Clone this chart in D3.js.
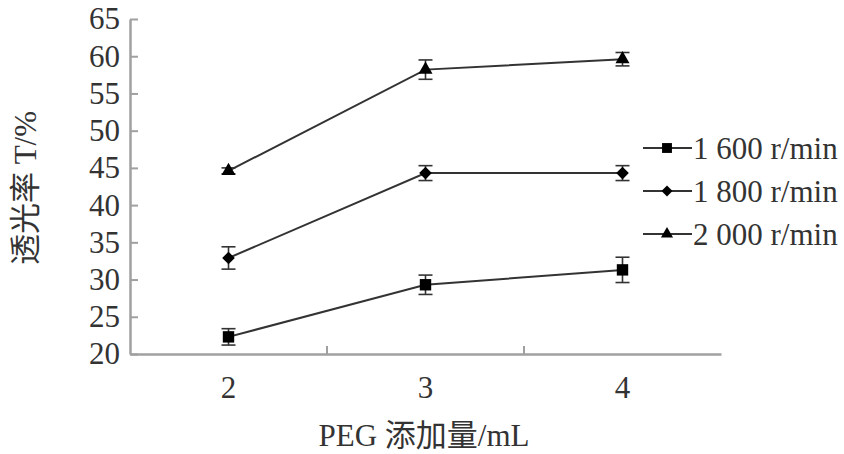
<!DOCTYPE html>
<html><head><meta charset="utf-8">
<script src="https://cdn.jsdelivr.net/npm/d3@7"></script>
<style>
body{margin:0;background:#fff;}
text{font-family:"Liberation Serif","Noto Sans CJK SC",serif;fill:#333;}
</style></head>
<body><svg id="c" width="844" height="454"></svg>
<script>
const categories = [2, 3, 4];
const seriesNames = ["1 600 r/min", "1 800 r/min", "2 000 r/min"];
const series1600 = [22.3, 29.3, 31.3];
const err1600 = [1.1, 1.3, 1.7];
const series1800 = [32.9, 44.3, 44.3];
const err1800 = [1.5, 1.0, 1.0];
const series2000 = [44.6, 58.2, 59.6];
const err2000 = [0.4, 1.3, 0.9];
const yTicks = [20, 25, 30, 35, 40, 45, 50, 55, 60, 65];

const data = [
  {name: seriesNames[0], v: series1600, e: err1600, sym: d3.symbolSquare, size: 130, rot: 0},
  {name: seriesNames[1], v: series1800, e: err1800, sym: d3.symbolSquare, size: 80, rot: 45},
  {name: seriesNames[2], v: series2000, e: err2000, sym: d3.symbolTriangle, size: 85, rot: 0}
];

const svg = d3.select("#c");
const x = d3.scaleBand().domain(categories).range([130, 721]).padding(0);
const y = d3.scaleLinear().domain([20, 65]).range([354, 19]);
const axisColor = "#a0a0a0";
const lineColor = "#333";
const fs = 31;

// y axis
const gy = svg.append("g").attr("transform", "translate(130,0)")
  .call(d3.axisLeft(y).tickValues(yTicks).tickSizeInner(-8).tickSizeOuter(0).tickPadding(10));
gy.select(".domain").attr("stroke", axisColor).attr("stroke-width", 2.5);
gy.selectAll(".tick line").attr("stroke", axisColor).attr("stroke-width", 2);
gy.selectAll(".tick text").attr("font-size", fs).attr("fill", "#333")
  .attr("font-family", "Liberation Serif");

// x axis
const gx = svg.append("g").attr("transform", "translate(0,354)")
  .call(d3.axisBottom(x).tickSize(0).tickPadding(22));
gx.select(".domain").attr("stroke", axisColor).attr("stroke-width", 2.5);
gx.selectAll(".tick text").attr("font-size", fs).attr("fill", "#333")
  .attr("font-family", "Liberation Serif");
gx.selectAll(".bnd").data(categories.slice(0, -1)).enter().append("line")
  .attr("x1", d => x(d) + x.bandwidth()).attr("x2", d => x(d) + x.bandwidth())
  .attr("y1", 0).attr("y2", -8).attr("stroke", axisColor).attr("stroke-width", 2);

const cx = d => x(d) + x.bandwidth() / 2;
const line = d3.line().x((d, i) => cx(categories[i])).y(d => y(d));

data.forEach(s => {
  const g = svg.append("g");
  g.append("path").attr("d", line(s.v)).attr("fill", "none")
    .attr("stroke", lineColor).attr("stroke-width", 2);
  s.v.forEach((v, i) => {
    const px = cx(categories[i]);
    const top = y(v + s.e[i]), bot = y(v - s.e[i]);
    g.append("line").attr("x1", px).attr("x2", px).attr("y1", top).attr("y2", bot)
      .attr("stroke", lineColor).attr("stroke-width", 1.6);
    [top, bot].forEach(yy => g.append("line").attr("x1", px - 7).attr("x2", px + 7)
      .attr("y1", yy).attr("y2", yy).attr("stroke", lineColor).attr("stroke-width", 1.6));
    g.append("path").attr("d", d3.symbol().type(s.sym).size(s.size)())
      .attr("transform", `translate(${px},${y(v)}) rotate(${s.rot})`).attr("fill", "#000");
  });
});

// legend
const leg = svg.append("g");
data.forEach((s, i) => {
  const ly = 148 + i * 43;
  leg.append("line").attr("x1", 643).attr("x2", 692).attr("y1", ly).attr("y2", ly)
    .attr("stroke", lineColor).attr("stroke-width", 2);
  leg.append("path").attr("d", d3.symbol().type(s.sym).size(s.size * 0.75)())
    .attr("transform", `translate(667,${ly}) rotate(${s.rot})`).attr("fill", "#000");
  leg.append("text").attr("x", 693).attr("y", ly + 11).attr("font-size", fs)
    .text(s.name);
});

// axis titles
svg.append("text").attr("x", 424).attr("y", 446).attr("text-anchor", "middle")
  .attr("font-size", fs).text("PEG 添加量/mL");
svg.append("text").attr("transform", "translate(36,188) rotate(-90)")
  .attr("text-anchor", "middle").attr("font-size", fs).text("透光率 T/%");
</script></body></html>
